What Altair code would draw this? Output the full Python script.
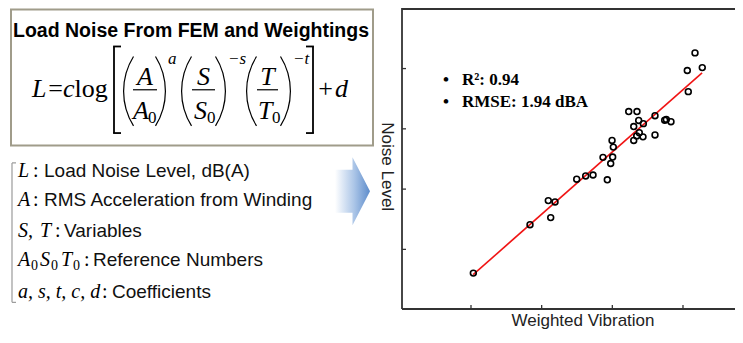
import math
import altair as alt
import pandas as pd

# ---------------- data ----------------
vib_x = [1.033, 1.835, 2.094, 2.189, 2.128, 2.496, 2.623, 2.727, 2.929, 2.868,
         2.977, 3.005, 2.996, 3.014, 3.232, 3.349, 3.303, 3.373, 3.439, 3.303,
         3.345, 3.382, 3.434, 3.604, 3.604, 3.741, 3.764, 3.830, 4.061, 4.170,
         4.273, 4.075]
noise_y = [0.606, 1.410, 1.809, 1.787, 1.527, 2.165, 2.218, 2.234, 2.154, 2.527,
           2.425, 2.532, 2.808, 2.697, 3.287, 3.287, 3.038, 3.139, 3.086, 2.808,
           2.883, 2.936, 2.867, 3.218, 2.899, 3.143, 3.155, 3.118, 3.968, 4.260,
           4.016, 3.617]
fit_x = [1.03, 4.27]
fit_y = [0.58, 3.93]
tick_vals = [1, 2, 3, 4]

title_text = "Load Noise From FEM and Weightings"
x_title = "Weighted Vibration"
y_title = "Noise Level"
stats_lines = ["R\u00b2: 0.94", "RMSE: 1.94 dBA"]

# ---------------- layout helpers ----------------
S = 0.962           # vertical compression so the chart fits the page
W, H = 333, 301
PAD_L = 394


def X(px):
    return px - 402


def Y(py):
    return (py - 2) * S


one = alt.Data(values=[{}])
SERIF = "Liberation Serif"
SANS = "Liberation Sans"


def txt(s, x, y, size, font, style="normal", weight="normal", align="left",
        color="black", angle=0, baseline="alphabetic"):
    return alt.Chart(one).mark_text(
        text=s, align=align, baseline=baseline, font=font, fontSize=size,
        fontStyle=style, fontWeight=weight, color=color, angle=angle
    ).encode(x=alt.value(x), y=alt.value(y))


def hline(x1, x2, y, color="black", w=1.5):
    return alt.Chart(one).mark_rule(color=color, strokeWidth=w).encode(
        x=alt.value(x1), x2=alt.value(x2), y=alt.value(y))


def vline(x, y1, y2, color="black", w=1.5):
    return alt.Chart(one).mark_rule(color=color, strokeWidth=w).encode(
        x=alt.value(x), y=alt.value(y1), y2=alt.value(y2))


R_OUT = 66.3
R_IN = R_OUT - 1.2
HALF = math.asin(35.0 / R_OUT)


def paren(cx, cy, left=True):
    mid = 1.5 * math.pi if left else 0.5 * math.pi
    return alt.Chart(one).mark_arc(
        radius=R_OUT, radius2=R_IN, theta=mid - HALF, theta2=mid + HALF,
        color="black"
    ).encode(x=alt.value(cx), y=alt.value(cy))


xscale = alt.Scale(domain=[0.0236, 4.736], nice=False, zero=False)
yscale = alt.Scale(domain=[0.0107, 5.005], nice=False, zero=False)

pts = pd.DataFrame({"x": vib_x, "y": noise_y})
fit = pd.DataFrame({"x": fit_x, "y": fit_y})
ticks = pd.DataFrame({"t": tick_vals})

layers = []

# ---------------- scatter panel ----------------
layers.append(alt.Chart(fit).mark_line(color="#f01414", strokeWidth=1.6).encode(
    x=alt.X("x:Q", scale=xscale, axis=None),
    y=alt.Y("y:Q", scale=yscale, axis=None)))
layers.append(alt.Chart(pts).mark_point(
    shape="circle", filled=False, color="black", strokeWidth=1.6, size=34, opacity=1
).encode(x=alt.X("x:Q", scale=xscale, axis=None),
         y=alt.Y("y:Q", scale=yscale, axis=None)))
layers.append(alt.Chart(ticks).mark_rule(color="#333", strokeWidth=1.3).encode(
    x=alt.X("t:Q", scale=xscale, axis=None), y=alt.value(H), y2=alt.value(H - 4)))
layers.append(alt.Chart(ticks).mark_rule(color="#333", strokeWidth=1.3).encode(
    y=alt.Y("t:Q", scale=yscale, axis=None), x=alt.value(0), x2=alt.value(4)))
# frame (top, left, bottom)
layers.append(hline(0, W, 1, "#333", 1.8))
layers.append(vline(0, 0, H, "#333", 1.8))
layers.append(hline(0, W, H, "#333", 1.8))

layers.append(txt("\u2022", X(443), Y(82), 17, SERIF, weight="bold"))
layers.append(txt(stats_lines[0], X(462), Y(82), 17, SERIF, weight="bold"))
layers.append(txt("\u2022", X(443), Y(105), 17, SERIF, weight="bold"))
layers.append(txt(stats_lines[1], X(462), Y(105), 17, SERIF, weight="bold"))

layers.append(txt(x_title, X(583), Y(333), 17, SANS, align="center", color="#222"))
layers.append(txt(y_title, X(382), Y(167), 17, SANS, align="center", color="#222", angle=90))

# ---------------- formula box ----------------
layers.append(alt.Chart(one).mark_rect(fill="white", stroke="#a09c8a", strokeWidth=2).encode(
    x=alt.value(X(11)), x2=alt.value(X(373)), y=alt.value(1.5), y2=alt.value(Y(145))))
layers.append(txt(title_text, X(191), Y(32), 19.5, SANS, weight="bold", align="center"))

BL, NB, DB, SB, SUP = Y(95), Y(82), Y(117), Y(122), Y(60)
BAR = Y(87)
PC = Y(88.5)
BT, BB = Y(42), Y(132)
F, FS = 26, 17
layers.append(txt("L", X(32), BL, F, SERIF, style="italic"))
layers.append(txt("=", X(55.5), BL, F, SERIF, align="center"))
layers.append(txt("c", X(63), BL, F, SERIF, style="italic"))
layers.append(txt("log", X(74.5), BL, F, SERIF))
# left bracket
layers.append(vline(X(114), BT, BB, "black", 1.8))
layers.append(hline(X(113.1), X(121), BT, "black", 1.8))
layers.append(hline(X(113.1), X(121), BB, "black", 1.8))
# (A/A0)^a
layers.append(paren(X(123 + R_OUT), PC, True))
layers.append(txt("A", X(145), NB, F, SERIF, style="italic", align="center"))
layers.append(hline(X(133), X(157), BAR, "black", 1.2))
layers.append(txt("A", X(133), DB, F, SERIF, style="italic"))
layers.append(txt("0", X(148), SB, FS, SERIF))
layers.append(paren(X(166 - R_OUT), PC, False))
layers.append(txt("a", X(168), SUP, FS, SERIF, style="italic"))
# (S/S0)^-s
layers.append(paren(X(181 + R_OUT), PC, True))
layers.append(txt("S", X(203.5), NB, F, SERIF, style="italic", align="center"))
layers.append(hline(X(192), X(215), BAR, "black", 1.2))
layers.append(txt("S", X(194), DB, F, SERIF, style="italic"))
layers.append(txt("0", X(207), SB, FS, SERIF))
layers.append(paren(X(226 - R_OUT), PC, False))
layers.append(txt("\u2212s", X(228), SUP, FS, SERIF, style="italic"))
# (T/T0)^-t
layers.append(paren(X(246 + R_OUT), PC, True))
layers.append(txt("T", X(267.5), NB, F, SERIF, style="italic", align="center"))
layers.append(hline(X(257), X(278), BAR, "black", 1.2))
layers.append(txt("T", X(258), DB, F, SERIF, style="italic"))
layers.append(txt("0", X(272), SB, FS, SERIF))
layers.append(paren(X(291 - R_OUT), PC, False))
layers.append(txt("\u2212t", X(293), SUP, FS, SERIF, style="italic"))
# right bracket
layers.append(vline(X(313), BT, BB, "black", 1.8))
layers.append(hline(X(306), X(313.9), BT, "black", 1.8))
layers.append(hline(X(306), X(313.9), BB, "black", 1.8))
layers.append(txt("+", X(325.5), BL, F, SERIF, align="center"))
layers.append(txt("d", X(335), BL, F, SERIF, style="italic"))

# ---------------- definitions list ----------------
layers.append(vline(X(12), Y(163), Y(308), "#9a9a9a", 1.2))
layers.append(hline(X(12), X(16), Y(163), "#9a9a9a", 1.2))
layers.append(hline(X(12), X(16), Y(308), "#9a9a9a", 1.2))

FI, FT = 20, 19
rows = [
    (178, [("L", 18)], 33, "Load Noise Level, dB(A)", 44),
    (208, [("A", 18)], 33, "RMS Acceleration from Winding", 44),
    (240, [("S,", 18), ("T", 40)], 55, "Variables", 64),
    (303, [("a, s, t, c, d", 18)], 102, "Coefficients", 112),
]
for base, syms, cx, desc, dx in rows:
    for s, sx in syms:
        layers.append(txt(s, X(sx), Y(base), FI, SERIF, style="italic"))
    layers.append(txt(":", X(cx), Y(base), FI, SERIF))
    layers.append(txt(desc, X(dx), Y(base), FT, SANS, color="#111"))

b4 = 270
for s, sx, zx in [("A", 18, 31), ("S", 40, 51), ("T", 61, 73)]:
    layers.append(txt(s, X(sx), Y(b4), FI, SERIF, style="italic"))
    layers.append(txt("0", X(zx), Y(b4 + 4), 14, SERIF))
layers.append(txt(":", X(84), Y(b4), FI, SERIF))
layers.append(txt("Reference Numbers", X(93), Y(b4), FT, SANS, color="#111"))

# ---------------- arrow ----------------
grad = alt.LinearGradient(
    gradient="linear",
    stops=[alt.GradientStop(offset=0, color="#ffffff"),
           alt.GradientStop(offset=0.55, color="#abc5e7"),
           alt.GradientStop(offset=1, color="#5d8ccb")],
    x1=0, x2=1, y1=0, y2=0)
arrow_path = "M -0.515 -0.63 L 0 -0.63 L 0 -1 L 0.515 0 L 0 1 L 0 0.63 L -0.515 0.63 Z"
layers.append(alt.Chart(one).mark_point(
    shape=arrow_path, filled=True, fill=grad, strokeWidth=0, size=68 * 68, opacity=1
).encode(x=alt.value(X(352.5)), y=alt.value(Y(192.5))))

chart = alt.layer(*layers).properties(
    width=W, height=H,
    padding={"left": PAD_L, "top": 0, "right": 0, "bottom": 22},
    autosize=alt.AutoSizeParams(type="none"),
    background="white",
).configure_view(stroke=None)

chart.save("out.html", embed_options={"renderer": "svg", "actions": False})
